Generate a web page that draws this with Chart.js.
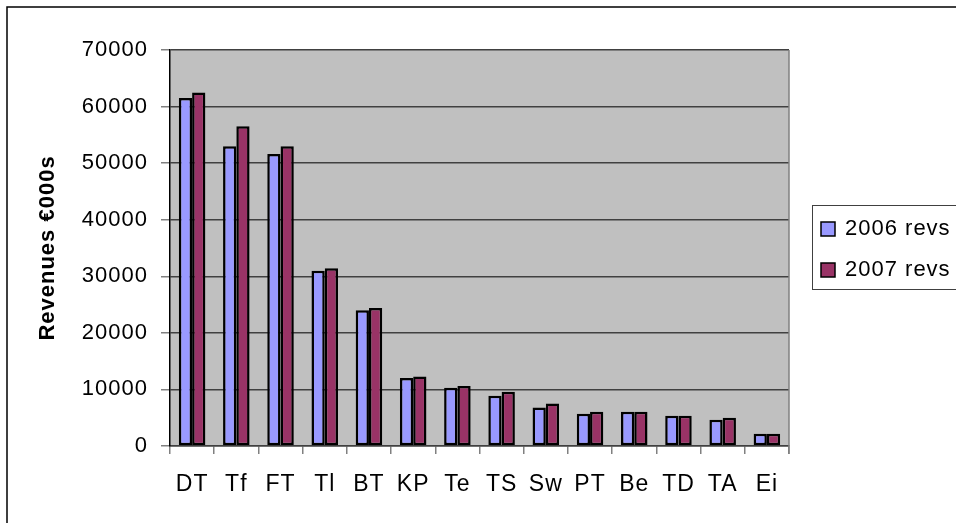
<!DOCTYPE html>
<html lang="en">
<head>
    <meta charset="UTF-8">
    <title>Revenues 2006 / 2007</title>
    <script src="https://cdn.jsdelivr.net/npm/chart.js"></script>
    <style>
        body {
            margin: 0;
            background: #fff;
        }

        #wrap {
            width: 956px;
            height: 523px;
        }
    </style>
</head>
<body>
    <div id="wrap">
        <canvas id="revChart" width="956" height="523"></canvas>
    </div>

    <script>
        // 会社の略称
        const companies = ['DT', 'Tf', 'FT', 'Tl', 'BT', 'KP', 'Te', 'TS', 'Sw', 'PT', 'Be', 'TD', 'TA', 'Ei'];
        const revs2006 = [61500, 53000, 51600, 31000, 24000, 12000, 10300, 8900, 6800, 5700, 6050, 5350, 4650, 2150];
        const revs2007 = [62500, 56500, 53000, 31400, 24400, 12300, 10600, 9600, 7500, 6050, 6050, 5350, 5000, 2150];
        const seriesNames = ['2006 revs', '2007 revs'];
        const seriesColors = ['#9999FF', '#993366'];
        const yTicks = [0, 10000, 20000, 30000, 40000, 50000, 60000, 70000];

        const FONT = 'Arial, "Liberation Sans", sans-serif';

        // 灰色の背景・枠線・凡例を描くプラグイン
        const frame = {
            id: 'frame',
            beforeDraw(chart) {
                const { ctx, chartArea: a } = chart;
                // 元画像の文字は少し横に広い
                ctx.letterSpacing = '1px';
                ctx.save();
                ctx.fillStyle = '#C0C0C0';
                ctx.fillRect(a.left, a.top, a.right - a.left, a.bottom - a.top);
                ctx.restore();
            },
            afterDraw(chart) {
                const { ctx, chartArea: a } = chart;
                ctx.save();
                // プロット右端
                ctx.strokeStyle = '#808080';
                ctx.lineWidth = 1.5;
                ctx.beginPath();
                ctx.moveTo(a.right, a.top);
                ctx.lineTo(a.right, a.bottom + 8);
                ctx.stroke();

                // 外枠 (上と左だけ見える)
                ctx.strokeStyle = '#000';
                ctx.lineWidth = 1.5;
                ctx.beginPath();
                ctx.moveTo(956, 7);
                ctx.lineTo(7, 7);
                ctx.lineTo(7, 523);
                ctx.stroke();

                // 凡例
                ctx.strokeStyle = '#404040';
                ctx.lineWidth = 1;
                ctx.strokeRect(812.5, 205.5, 150, 84);
                ctx.font = '22px ' + FONT;
                ctx.letterSpacing = '1px';
                ctx.textBaseline = 'middle';
                ctx.textAlign = 'left';
                chart.data.datasets.forEach((ds, i) => {
                    const y = 229 + i * 41;
                    ctx.fillStyle = ds.backgroundColor;
                    ctx.fillRect(821, y - 7, 14, 14);
                    ctx.strokeStyle = '#000';
                    ctx.lineWidth = 1.5;
                    ctx.strokeRect(821, y - 7, 14, 14);
                    ctx.fillStyle = '#000';
                    ctx.fillText(ds.label, 845, y);
                });
                ctx.restore();
            }
        };

        const ctx = document.getElementById('revChart').getContext('2d');
        new Chart(ctx, {
            type: 'bar',
            data: {
                labels: companies,
                datasets: [revs2006, revs2007].map((vals, i) => ({
                    label: seriesNames[i],
                    data: vals,
                    backgroundColor: seriesColors[i],
                    borderColor: '#000',
                    borderWidth: 2.5,
                    borderSkipped: false,
                    categoryPercentage: 0.6,
                    barPercentage: 1.0
                }))
            },
            options: {
                responsive: false,
                devicePixelRatio: 1,
                animation: false,
                layout: {
                    padding: { top: 50, right: 167, bottom: 0, left: 0 }
                },
                plugins: {
                    legend: { display: false },
                    tooltip: { enabled: false }
                },
                scales: {
                    x: {
                        afterFit(scale) { scale.height = 77; },
                        grid: {
                            offset: true,
                            drawOnChartArea: false,
                            tickLength: 8,
                            color: '#808080',
                            lineWidth: 1.5
                        },
                        border: { color: '#404040', width: 1.5 },
                        ticks: {
                            padding: 17,
                            color: '#000',
                            font: { family: FONT, size: 23 },
                            maxRotation: 0,
                            autoSkip: false
                        }
                    },
                    y: {
                        min: 0,
                        max: 70000,
                        afterFit(scale) { scale.width = 170; },
                        afterBuildTicks(scale) {
                            scale.ticks = yTicks.map(v => ({ value: v }));
                        },
                        grid: {
                            color: '#404040',
                            lineWidth: 1.5,
                            tickLength: 9,
                            tickColor: '#808080'
                        },
                        border: { color: '#000', width: 1.5 },
                        ticks: {
                            padding: 13,
                            color: '#000',
                            font: { family: FONT, size: 22 },
                            callback: v => String(v)
                        },
                        title: {
                            display: true,
                            text: 'Revenues €000s',
                            color: '#000',
                            font: { family: FONT, size: 22, weight: 'bold' },
                            padding: { top: 35, bottom: 0 }
                        }
                    }
                }
            },
            plugins: [frame]
        });
    </script>
</body>
</html>
